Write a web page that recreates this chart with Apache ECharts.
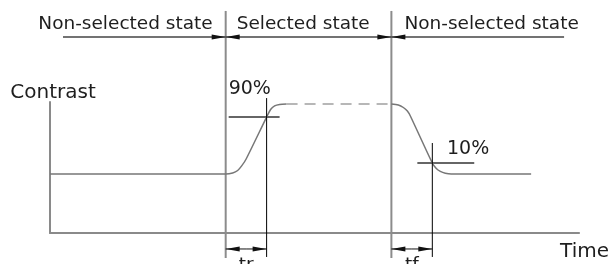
<!DOCTYPE html>
<html>
<head>
<meta charset="utf-8">
<script src="https://cdn.jsdelivr.net/npm/echarts@6/dist/echarts.min.js"></script>
<style>
  html, body { margin: 0; background: #fff; }
  #chart { width: 610px; height: 264px; }
</style>
</head>
<body>
<div id="chart"></div>
<script>
// 响应波形（时间、对比度为任意单位，坐标原点为 0）
const riseTime = [0, 35.2, 36.6, 37.6, 38.4, 39.3, 43.4, 44.2, 45.0, 46.0, 47.4];
const riseContrast = [45, 45, 45.8, 47.7, 51.2, 56.5, 88.5, 94.3, 97.0, 98.1, 98.5];
const holdTime = [47.4, 68.4];
const holdContrast = [98.5, 98.5];
const fallTime = [68.4, 69.8, 70.8, 71.6, 72.2, 76.6, 77.4, 78.2, 79.2, 80.4, 96.4];
const fallContrast = [98.5, 97.7, 95.8, 93.1, 89.3, 53.4, 49.2, 47.0, 45.6, 45, 45];

// 状态区间
const stateNames = ['Non-selected state', 'Selected state', 'Non-selected state'];
const stateEdges = [2.6, 35.2, 68.4, 103];
const stateLevel = 149.6;
const edgeRange = [-19.1, 169.5];

// 90% / 10% 阈值
const thresholdNames = ['90%', '10%'];
const thresholdLevels = [88.5, 53.4];
const thresholdSpans = [[35.8, 46], [73.6, 85]];
const crossTimes = [43.4, 76.6];
const crossTops = [103, 68.7];
const crossBottom = -18.3;

// tr / tf 标注
const spanNames = ['tr', 'tf'];
const spanLevel = -12.2;

const FONT = 'DejaVu Sans';
const TEXT = '#1e1e1e';
const arrowLeft = 'path://M14,0L0,2L14,4Z';
const arrowRight = 'path://M0,0L14,2L0,4Z';

function pairs(xs, ys) {
  return xs.map((x, i) => [x, ys[i]]);
}

// 带箭头的端点
function arrowPoint(x, y, dir, label) {
  const item = {
    value: [x, y],
    symbol: dir < 0 ? arrowLeft : arrowRight,
    symbolSize: [14, 5],
    symbolOffset: [dir < 0 ? 7 : -7, 0],
    itemStyle: { color: '#111' }
  };
  if (label) item.label = label;
  return item;
}

// 只用来挂文字的点
function labelPoint(x, y, label) {
  return {
    value: [x, y],
    symbol: 'circle',
    symbolSize: 1,
    itemStyle: { color: 'rgba(0,0,0,0)' },
    label: label
  };
}

function seg(data, lineStyle, extra) {
  return Object.assign({
    type: 'line',
    data: data,
    symbol: 'none',
    clip: false,
    silent: true,
    lineStyle: lineStyle
  }, extra || {});
}

function textLabel(text, opts) {
  return Object.assign({
    show: true,
    formatter: text,
    color: TEXT,
    fontFamily: FONT,
    fontSize: 18.5
  }, opts);
}

const series = [];

// 波形
const curveStyle = { color: '#777', width: 1.5 };
series.push(seg(pairs(riseTime, riseContrast), curveStyle, { smooth: 0.25, z: 5 }));
series.push(seg(pairs(holdTime, holdContrast), { color: '#a0a0a0', width: 1.5, type: [11, 7] }, { z: 5 }));
series.push(seg(pairs(fallTime, fallContrast), curveStyle, { smooth: 0.25, z: 5 }));

// 状态分界线
[stateEdges[1], stateEdges[2]].forEach(t => {
  series.push(seg([[t, edgeRange[0]], [t, edgeRange[1]]], { color: '#8c8c8c', width: 2 }));
});

// 顶部状态标注
const bandLabelStyle = [
  { align: 'right', offset: [-6, 4] },
  { align: 'left', offset: [4, 4] },
  { align: 'left', offset: [6, 4] }
];
stateNames.forEach((name, i) => {
  const a = stateEdges[i];
  const b = stateEdges[i + 1];
  const lab = textLabel(name, Object.assign({ position: 'top', distance: 5 }, bandLabelStyle[i]));
  const start = i > 0 ? arrowPoint(a, stateLevel, -1, lab) : { value: [a, stateLevel], symbol: 'none' };
  const end = i < stateNames.length - 1 ? arrowPoint(b, stateLevel, 1, i === 0 ? lab : null) : { value: [b, stateLevel], symbol: 'none' };
  series.push(seg([start, end], { color: '#444', width: 1.5 }));
});

// 阈值线与交点竖线
const thresholdLabelStyle = [
  { align: 'left', offset: [0, -13] },
  { align: 'right', offset: [15, 1] }
];
thresholdNames.forEach((name, i) => {
  const span = thresholdSpans[i];
  const lab = textLabel(name, Object.assign({ position: 'top', distance: 5, fontSize: 19 }, thresholdLabelStyle[i]));
  const data = i === 0
    ? [labelPoint(span[0], thresholdLevels[i], lab), [span[1], thresholdLevels[i]]]
    : [[span[0], thresholdLevels[i]], labelPoint(span[1], thresholdLevels[i], lab)];
  series.push(seg(data, { color: '#666', width: 2 }, { z: 4 }));
  series.push(seg([[crossTimes[i], crossBottom], [crossTimes[i], crossTops[i]]], { color: '#000', width: 1 }, { z: 6 }));
});

// tr / tf 尺寸线
spanNames.forEach((name, i) => {
  const a = stateEdges[i + 1];
  const b = crossTimes[i];
  series.push(seg([
    arrowPoint(a, spanLevel, -1),
    labelPoint((a + b) / 2, spanLevel, textLabel(name, { position: 'bottom', distance: 6 })),
    arrowPoint(b, spanLevel, 1)
  ], { color: '#111', width: 1 }));
});

const chart = echarts.init(document.getElementById('chart'), null, { renderer: 'canvas' });
chart.setOption({
  animation: false,
  backgroundColor: '#fff',
  grid: { left: 50, right: 30, top: 102, bottom: 31 },
  xAxis: {
    type: 'value',
    min: 0,
    max: 106,
    name: 'Time',
    nameLocation: 'end',
    nameGap: -19,
    nameTextStyle: {
      color: TEXT, fontFamily: FONT, fontSize: 20,
      align: 'left', verticalAlign: 'top', padding: [9, 0, 0, 0]
    },
    axisLine: { onZero: false, lineStyle: { color: '#8a8a8a', width: 2 } },
    axisTick: { show: false },
    axisLabel: { show: false },
    splitLine: { show: false }
  },
  yAxis: {
    type: 'value',
    min: 0,
    max: 100,
    name: 'Contrast',
    nameLocation: 'end',
    nameGap: -1,
    nameTextStyle: {
      color: TEXT, fontFamily: FONT, fontSize: 20, padding: [0, 0, 0, 6]
    },
    axisLine: { show: true, onZero: false, lineStyle: { color: '#8a8a8a', width: 2 } },
    axisTick: { show: false },
    axisLabel: { show: false },
    splitLine: { show: false }
  },
  series: series
});
</script>
</body>
</html>
